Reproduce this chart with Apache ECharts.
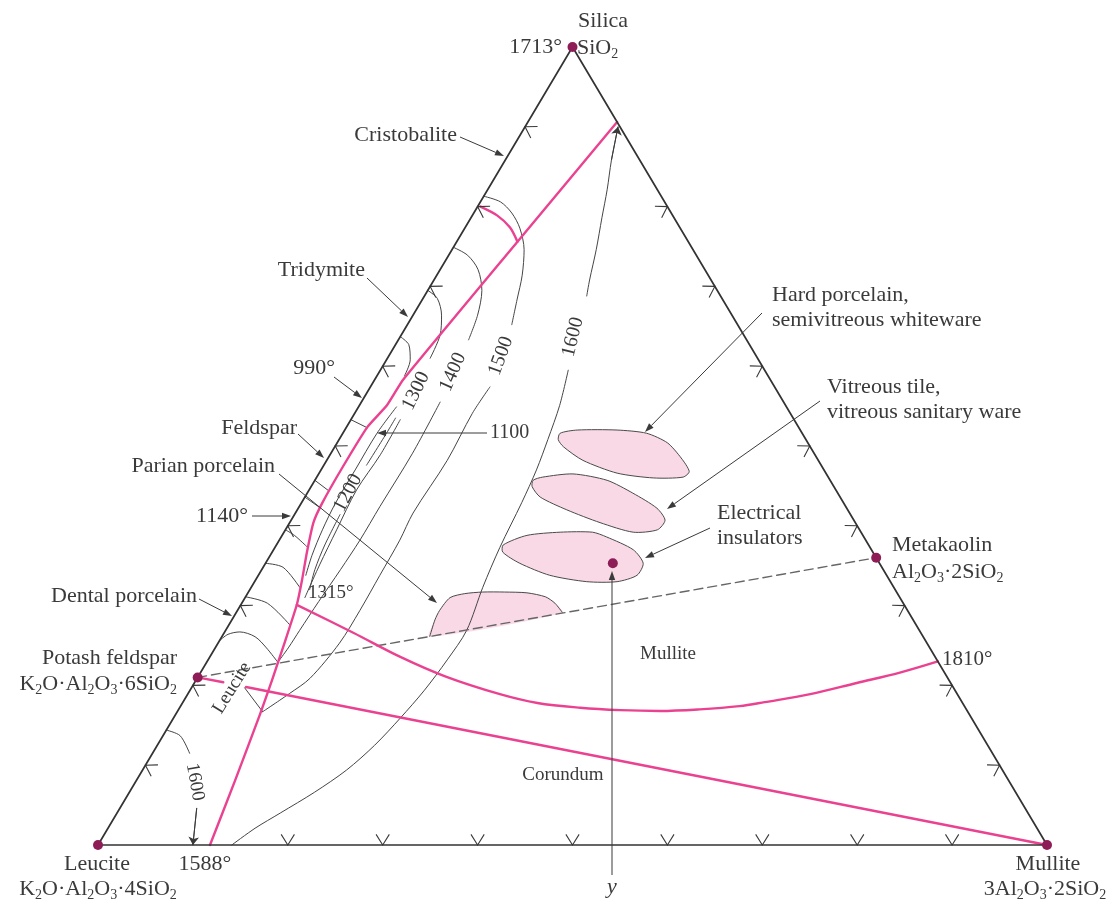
<!DOCTYPE html>
<html>
<head>
<meta charset="utf-8">
<script src="https://cdn.jsdelivr.net/npm/echarts@6/dist/echarts.min.js"></script>
<style>
  html, body { margin: 0; padding: 0; background: #ffffff; }
  #chart { width: 1115px; height: 904px; }
</style>
</head>
<body>
<div id="chart"></div>
<script>
// Ternary SiO2 – leucite – mullite diagram.
// Every composition is written as [mullite %, silica %]; leucite is the remainder.

const silica = [0, 100];
const leucite = [0, 0];
const mullite = [100, 0];
const potashFeldspar = [0, 21];
const metakaolin = [64, 36];
const insulatorPoint = [36.6, 35.3];

// Liquidus boundaries between primary fields
const boundaryMain = [[9.4, 90.6], [6.4, 75.6], [3.0, 58.3], [2.9, 55.1], [2.2, 52.4], [2.1, 47.4], [2.2, 42.9],
  [2.5, 40.4], [3.7, 36.6], [4.9, 33.2], [5.9, 30.1], [7.0, 25.3], [8.0, 20.7], [8.9, 16.3], [10.4, 8.1], [11.8, 0]];
const boundaryTridymite = [[0.3, 80.0], [2.6, 78.9], [4.7, 77.4], [6.4, 75.6]];
const boundaryMulliteCorundum = [[5.9, 30.1], [13.6, 26.6], [20.0, 23.6], [26.1, 21.1], [32.9, 18.9], [37.4, 17.8],
  [42.2, 17.2], [46.6, 16.9], [50.8, 16.8], [54.9, 17.0], [58.9, 17.4], [61.3, 17.9], [65.6, 18.9], [69.8, 20.3], [73.7, 21.6], [77.0, 23.0]];
const boundaryFeldsparMulliteA = [[0, 21], [3.0, 20.4]];
const boundaryFeldsparMulliteB = [[5.7, 19.8], [100, 0]];

// Isotherms (°C)
const iso1600Upper = [[9.8, 90.0], [11.2, 85.8], [12.6, 82.1], [13.8, 78.6], [15.2, 74.6], [16.4, 70.8], [17.1, 68.8]];
const iso1600Lower = [[19.8, 59.5], [21.1, 55.1], [22.0, 50.8], [22.7, 47.0], [23.2, 42.9], [23.7, 37.3], [24.4, 32.3],
  [25.4, 26.9], [25.2, 23.2], [24.7, 19.4], [23.9, 15.9], [22.9, 12.5], [21.5, 9.4], [19.5, 6.6], [17.2, 4.0], [15.5, 2.1], [14.1, 0]];
const iso1500Upper = [[0, 81.3], [2.1, 80.6], [4.0, 79.2], [5.8, 77.3], [7.6, 74.6], [9.0, 71.4], [10.0, 68.3], [11.0, 65.2]];
const iso1500Lower = [[12.6, 57.4], [12.4, 54.1], [12.7, 48.2], [12.4, 41.6], [12.7, 38.2], [12.8, 33.8], [12.9, 29.4],
  [12.8, 25.3], [11.9, 20.9], [10.7, 19.0], [9.0, 16.7]];
const iso1500Leucite = [[9.0, 16.7], [5.6, 19.7]];
const iso1400Upper = [[0, 74.9], [2.0, 73.9], [4.0, 72.1], [5.7, 69.5], [6.8, 66.4], [7.4, 63.3]];
const iso1400Lower = [[8.3, 55.5], [8.6, 49.1], [8.5, 42.4], [8.5, 38.2], [8.3, 34.5], [8.0, 30.5], [7.8, 26.9], [7.7, 24.7], [7.5, 22.9]];
const iso1400Leucite = [[7.5, 22.9], [5.4, 24.7], [3.5, 26.1], [1.6, 26.7], [0.5, 26.4], [0, 25.6]];
const iso1300Upper = [[0, 69.5], [1.5, 68.5], [3.0, 66.4], [4.1, 63.9], [4.5, 61.0]];
const iso1300Lower = [[5.2, 53.3], [5.3, 48.9], [5.0, 44.5], [5.4, 39.5], [5.8, 35.1], [6.3, 31.0]];
const iso1200Upper = [[4.6, 53.5], [4.6, 51.6], [4.5, 47.6]];
const iso1200Lower = [[4.8, 41.4], [5.1, 37.6], [5.6, 34.5], [6.3, 32.0]];
const iso1100 = [[4.0, 54.9], [3.6, 51.6], [3.6, 47.0], [3.6, 42.9], [3.9, 39.5], [4.4, 36.3], [5.0, 33.8]];
const isoTridymite = [[0, 63.7], [1.4, 62.7], [2.5, 60.8], [2.9, 58.8]];
const isoFeldsparA = [[0, 53.3], [2.2, 52.3]];
const isoFeldsparB = [[0, 45.7], [2.1, 44.4]];
const isoFeldsparC = [[0, 43.6], [2.2, 42.3]];
const isoLeuciteA = [[0, 39.5], [1.3, 38.8], [3.3, 37.4]];
const isoLeuciteB = [[0, 35.3], [2.1, 34.8], [5.1, 32.3]];
const isoLeuciteC = [[0, 31.1], [2.7, 30.3], [6.4, 27.6]];
const iso1600LeuciteUpper = [[0, 14.4], [1.8, 13.7], [3.9, 11.5]];
const iso1600LeuciteLower = [[8.1, 4.6], [10.0, 0]];

// Compositional ranges of whiteware bodies
const hardPorcelain = [[22.9, 51.6], [24.5, 52.0], [28.7, 52.0], [32.0, 51.6], [34.8, 50.4], [37.2, 48.5], [38.9, 46.8],
  [38.6, 46.1], [35.5, 46.0], [31.4, 46.6], [27.0, 48.2], [24.1, 49.9], [23.1, 50.8]];
const vitreousTile = [[23.0, 45.7], [23.8, 46.1], [26.8, 46.5], [30.8, 45.7], [34.3, 44.1], [37.8, 42.2], [39.4, 40.7],
  [39.2, 39.5], [36.8, 39.2], [32.7, 40.4], [28.4, 42.0], [24.8, 43.6], [23.3, 44.9]];
const electricalInsulators = [[23.9, 37.6], [25.8, 38.8], [29.1, 39.2], [32.5, 39.2], [34.3, 38.6], [37.9, 37.0], [39.8, 35.3],
  [39.9, 33.8], [38.2, 33.0], [35.0, 33.0], [30.7, 33.8], [26.8, 35.3], [24.3, 36.7]];
const parianPorcelain = [[21.9, 26.1], [21.4, 28.2], [21.3, 29.4], [21.6, 31.0], [22.9, 31.5], [24.7, 31.7], [27.0, 31.7],
  [29.4, 31.6], [31.6, 31.1], [33.0, 30.3], [34.4, 29.1]];

// Edge tick marks
const ticksBase = [[20, 0], [30, 0], [40, 0], [50, 0], [60, 0], [70, 0], [80, 0], [90, 0]];
const ticksLeft = [[0, 10], [0, 20], [0, 30], [0, 40], [0, 50], [0, 60], [0, 70], [0, 80], [0, 90]];
const ticksRight = [[90, 10], [80, 20], [70, 30], [60, 40], [50, 50], [40, 60], [30, 70], [20, 80]];

const INK = '#3a3a3a';
const PINK = '#ea4290';
const DOT = '#8e1d57';
const FONT = '"Liberation Serif", "Times New Roman", serif';

// ternary [mullite, silica] -> plane [x, y]
function toXY(p) { return [p[0] + p[1] / 2, p[1]]; }

function curve(pts, color, width, smooth, z, dash) {
  return {
    type: 'line', data: pts.map(toXY), showSymbol: false, symbol: 'none', smooth: smooth,
    silent: true, clip: false, z: z,
    lineStyle: { color: color, width: width, type: dash || 'solid', cap: 'round', join: 'round' }
  };
}

function arrowEnd(from, to) {
  return {
    type: 'lines', coordinateSystem: 'cartesian2d', silent: true, z: 3,
    symbol: ['none', 'arrow'], symbolSize: 8,
    lineStyle: { color: INK, width: 1, opacity: 1 },
    data: [{ coords: [toXY(from), toXY(to)] }]
  };
}

function region(pts, outlineOpen) {
  return {
    type: 'custom', coordinateSystem: 'cartesian2d', silent: true, z: 1, data: [[50, 50]],
    renderItem: function (params, api) {
      const px = pts.map(function (p) { return api.coord(toXY(p)); });
      const children = [{
        type: 'polygon', shape: { points: px, smooth: 0.25 },
        style: { fill: '#fad9e7', stroke: outlineOpen ? null : '#4a4a4a', lineWidth: 1 }
      }];
      if (outlineOpen) {
        children.push({ type: 'polyline', shape: { points: px, smooth: 0.25 },
          style: { stroke: '#4a4a4a', lineWidth: 1, fill: null } });
      }
      return { type: 'group', children: children };
    }
  };
}

// Chevron tick marks pointing into the triangle from an edge
function ticks(list, edge) {
  return {
    type: 'custom', coordinateSystem: 'cartesian2d', silent: true, z: 4, data: list.map(toXY),
    renderItem: function (params, api) {
      const p = api.coord([api.value(0), api.value(1)]);
      const A = api.coord(toXY(edge[0])), B = api.coord(toXY(edge[1]));
      const ang = Math.atan2(B[1] - A[1], B[0] - A[0]) - Math.PI / 2;
      const L = 12.5, h = 32 * Math.PI / 180;
      return {
        type: 'polyline',
        shape: { points: [[p[0] + L * Math.cos(ang - h), p[1] + L * Math.sin(ang - h)], p,
                          [p[0] + L * Math.cos(ang + h), p[1] + L * Math.sin(ang + h)]] },
        style: { stroke: INK, lineWidth: 1.1, fill: null }
      };
    }
  };
}

// ---- annotation helpers (layout in pixels) ----
function txt(text, x, y, align, opt) {
  opt = opt || {};
  return {
    type: 'text', x: x, y: y, z: 20, silent: true, rotation: (opt.rot || 0) * Math.PI / 180,
    style: {
      text: text, fill: INK, fontFamily: FONT, fontSize: opt.size || 22,
      fontStyle: opt.italic ? 'italic' : 'normal',
      align: align, verticalAlign: 'middle'
    }
  };
}

function formula(src, x, y, align) {
  const parts = src.split(/_(\d)/);
  let rich = '';
  parts.forEach(function (s, i) {
    if (!s) return;
    rich += (i % 2 === 1) ? '{s|' + s + '}' : '{m|' + s + '}';
  });
  return {
    type: 'text', x: x, y: y, z: 20, silent: true,
    style: {
      text: rich, fill: INK, align: align, verticalAlign: 'middle',
      fontFamily: FONT, fontSize: 22,
      rich: {
        m: { fontFamily: FONT, fontSize: 22, lineHeight: 26, fill: INK },
        s: { fontFamily: FONT, fontSize: 14, lineHeight: 13, verticalAlign: 'bottom', fill: INK }
      }
    }
  };
}

function arrow(x1, y1, x2, y2) {
  const a = Math.atan2(y2 - y1, x2 - x1), L = 9, W = 3.2;
  const bx = x2 - L * Math.cos(a), by = y2 - L * Math.sin(a);
  const nx = -Math.sin(a) * W, ny = Math.cos(a) * W;
  return [
    { type: 'line', z: 20, silent: true, shape: { x1: x1, y1: y1, x2: bx, y2: by }, style: { stroke: INK, lineWidth: 1 } },
    { type: 'polygon', z: 20, silent: true, shape: { points: [[x2, y2], [bx + nx, by + ny], [bx - nx, by - ny]] }, style: { fill: INK } }
  ];
}

const annotations = [].concat(
  [txt('Silica', 603, 21, 'center'), txt('1713°', 562, 47, 'right'), formula('SiO_2', 577, 48, 'left')],
  [txt('Cristobalite', 457, 135, 'right')], arrow(460, 137, 504, 156),
  [txt('Tridymite', 365, 270, 'right')], arrow(367, 278, 408, 317),
  [txt('990°', 335, 368, 'right')], arrow(334, 377, 362, 398),
  [txt('Feldspar', 297, 428, 'right')], arrow(298, 434, 324, 458),
  [txt('Parian porcelain', 275, 466, 'right')], arrow(279, 474, 437, 603),
  [txt('1140°', 248, 516, 'right')], arrow(252, 516, 291, 516),
  [txt('Dental porcelain', 197, 596, 'right')], arrow(199, 599, 232, 616),
  [txt('Potash feldspar', 177, 658, 'right'), formula('K_2O·Al_2O_3·6SiO_2', 177, 684, 'right')],
  [txt('Leucite', 232, 688, 'center', { rot: 58, size: 19 })],
  [txt('1315°', 308, 593, 'left', { size: 19 })],
  [txt('1600', 195, 782, 'center', { rot: -80, size: 19 })],
  [txt('Leucite', 97, 864, 'center'), formula('K_2O·Al_2O_3·4SiO_2', 98, 889, 'center')],
  [txt('1588°', 205, 864, 'center')],
  [txt('Mullite', 1048, 864, 'center'), formula('3Al_2O_3·2SiO_2', 1045, 889, 'center')],
  [txt('y', 612, 887, 'center', { italic: true })], arrow(612, 875, 612, 571),
  [txt('Mullite', 668, 654, 'center', { size: 19 }), txt('Corundum', 563, 775, 'center', { size: 19 })],
  [txt('1810°', 942, 659, 'left', { size: 21 })],
  [txt('1100', 490, 433, 'left', { size: 20 })], arrow(487, 433, 377, 433),
  [txt('1600', 573, 337, 'center', { rot: 76, size: 20 }),
   txt('1500', 501, 356, 'center', { rot: 70, size: 20 }),
   txt('1400', 453, 372, 'center', { rot: 66, size: 20 }),
   txt('1300', 416, 391, 'center', { rot: 64, size: 20 }),
   txt('1200', 348, 493, 'center', { rot: 62, size: 20 })],
  [txt('Hard porcelain,', 772, 295, 'left'), txt('semivitreous whiteware', 772, 320, 'left')], arrow(762, 313, 645, 432),
  [txt('Vitreous tile,', 827, 387, 'left'), txt('vitreous sanitary ware', 827, 412, 'left')], arrow(820, 401, 667, 509),
  [txt('Electrical', 717, 513, 'left'), txt('insulators', 717, 538, 'left')], arrow(710, 528, 645, 558),
  [txt('Metakaolin', 892, 545, 'left'), formula('Al_2O_3·2SiO_2', 892, 572, 'left')]
);

const isoColor = '#454545';
const series = [
  region(hardPorcelain), region(vitreousTile), region(electricalInsulators), region(parianPorcelain, true),

  curve(iso1600Upper, isoColor, 1, 0.3, 2), curve(iso1600Lower, isoColor, 1, 0.3, 2),
  curve(iso1500Upper, isoColor, 1, 0.3, 2), curve(iso1500Lower, isoColor, 1, 0.3, 2), curve(iso1500Leucite, isoColor, 1, 0, 2),
  curve(iso1400Upper, isoColor, 1, 0.3, 2), curve(iso1400Lower, isoColor, 1, 0.3, 2), curve(iso1400Leucite, isoColor, 1, 0.3, 2),
  curve(iso1300Upper, isoColor, 1, 0.3, 2), curve(iso1300Lower, isoColor, 1, 0.3, 2),
  curve(iso1200Upper, isoColor, 1, 0.3, 2), curve(iso1200Lower, isoColor, 1, 0.3, 2),
  curve(iso1100, isoColor, 1, 0.3, 2), curve(isoTridymite, isoColor, 1, 0.3, 2),
  curve(isoFeldsparA, isoColor, 1, 0, 2), curve(isoFeldsparB, isoColor, 1, 0, 2), curve(isoFeldsparC, isoColor, 1, 0, 2),
  curve(isoLeuciteA, isoColor, 1, 0.3, 2), curve(isoLeuciteB, isoColor, 1, 0.3, 2), curve(isoLeuciteC, isoColor, 1, 0.3, 2),
  curve(iso1600LeuciteUpper, isoColor, 1, 0.3, 2), curve(iso1600LeuciteLower, isoColor, 1, 0, 2),
  arrowEnd(iso1600Upper[1], iso1600Upper[0]),
  arrowEnd(iso1600LeuciteLower[0], iso1600LeuciteLower[1]),

  curve([potashFeldspar, metakaolin], '#666666', 1.4, 0, 2, [9, 5]),

  curve(boundaryMain, PINK, 2.4, 0.15, 3), curve(boundaryTridymite, PINK, 2.4, 0.3, 3),
  curve(boundaryMulliteCorundum, PINK, 2.4, 0.35, 3),
  curve(boundaryFeldsparMulliteA, PINK, 2.4, 0, 3), curve(boundaryFeldsparMulliteB, PINK, 2.4, 0, 3),

  curve([leucite, mullite, silica, leucite], '#333333', 1.7, 0, 4),
  ticks(ticksBase, [leucite, mullite]), ticks(ticksLeft, [silica, leucite]), ticks(ticksRight, [mullite, silica]),

  {
    type: 'scatter', silent: true, z: 6, symbolSize: 10, itemStyle: { color: DOT, opacity: 1 },
    data: [silica, leucite, mullite, potashFeldspar, metakaolin, insulatorPoint].map(toXY)
  }
];

const chart = echarts.init(document.getElementById('chart'), null, { renderer: 'canvas' });
chart.setOption({
  animation: false,
  backgroundColor: '#ffffff',
  grid: { left: 98, top: 47, width: 949, height: 798, containLabel: false },
  xAxis: { type: 'value', min: 0, max: 100, show: false },
  yAxis: { type: 'value', min: 0, max: 100, show: false },
  series: series,
  graphic: annotations
});
</script>
</body>
</html>
